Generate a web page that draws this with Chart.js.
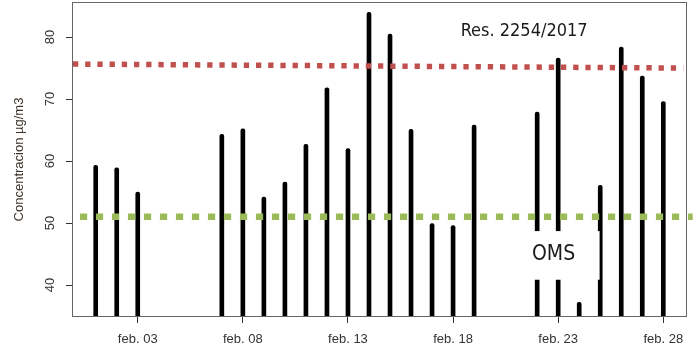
<!DOCTYPE html>
<html>
<head>
<meta charset="utf-8">
<script src="https://cdn.jsdelivr.net/npm/chart.js@4/dist/chart.umd.min.js"></script>
<style>
  html, body { margin: 0; padding: 0; background: #fff; }
  canvas { display: block; }
</style>
</head>
<body>
<canvas id="chart" width="698" height="347"></canvas>
<script>
// Daily PM10 concentration, February (day of month -> µg/m3)
const days = [1, 2, 3, 7, 8, 9, 10, 11, 12, 13, 14, 15, 16, 17, 18, 19, 22, 23, 24, 25, 26, 27, 28];
const pm10 = [59.3, 58.9, 55.0, 64.3, 65.2, 54.2, 56.6, 62.7, 71.8, 62.0, 84.0, 80.5, 65.1, 49.9, 49.6, 65.8, 67.9, 76.6, 37.2, 56.1, 78.4, 73.7, 69.6];

// Axis ticks
const tickDays = [3, 8, 13, 18, 23, 28];
const tickLabels = ['feb. 03', 'feb. 08', 'feb. 13', 'feb. 18', 'feb. 23', 'feb. 28'];
const yTicks = [40, 50, 60, 70, 80];

// Reference limits drawn as dotted lines
const resLimitX = [-0.08, 28.95];
const resLimitY = [75.65, 75.0];
const omsLimitX = [0.25, 29.4];
const omsLimitY = [51, 51];

// Limit captions (day, value)
const resCaption = { text: 'Res. 2254/2017', x: 21.38, y: 81.0 };
const omsCaption = { text: 'OMS', x: 22.78, y: 44.9 };
const omsBox = { x0: 21.3, x1: 24.97, y0: 40.85, y1: 48.7 };

const overlay = {
  id: 'overlay',
  afterDatasetsDraw(chart) {
    const { ctx, scales: { x, y } } = chart;
    ctx.save();
    // caption background for the OMS label
    const bx0 = x.getPixelForValue(omsBox.x0), bx1 = x.getPixelForValue(omsBox.x1);
    const by0 = y.getPixelForValue(omsBox.y1), by1 = y.getPixelForValue(omsBox.y0);
    ctx.fillStyle = '#ffffff';
    ctx.fillRect(bx0, by0, bx1 - bx0, by1 - by0);

    ctx.fillStyle = '#1a1a1a';
    ctx.textAlign = 'center';
    ctx.textBaseline = 'middle';
    ctx.font = '18px "DejaVu Sans Condensed", "DejaVu Sans", sans-serif';
    ctx.fillText(resCaption.text, x.getPixelForValue(resCaption.x), y.getPixelForValue(resCaption.y));
    ctx.font = '21px "DejaVu Sans Condensed", "DejaVu Sans", sans-serif';
    ctx.fillText(omsCaption.text, x.getPixelForValue(omsCaption.x), y.getPixelForValue(omsCaption.y));
    ctx.restore();
  },
  afterDraw(chart) {
    const { ctx, chartArea: a, scales: { y } } = chart;
    ctx.save();
    // plot frame
    ctx.strokeStyle = '#666';
    ctx.lineWidth = 1;
    ctx.strokeRect(Math.round(a.left) - 0.5, Math.round(a.top) - 0.5,
                   Math.round(a.right - a.left) + 1, Math.round(a.bottom - a.top) + 1);
    // vertical y tick labels
    ctx.fillStyle = '#333';
    ctx.font = '13px "Liberation Sans", Arial, sans-serif';
    ctx.textAlign = 'center';
    ctx.textBaseline = 'middle';
    yTicks.forEach(v => {
      ctx.save();
      ctx.translate(50, y.getPixelForValue(v));
      ctx.rotate(-Math.PI / 2);
      ctx.fillText(String(v), 0, 0);
      ctx.restore();
    });
    ctx.restore();
  }
};

new Chart(document.getElementById('chart'), {
  type: 'bar',
  data: {
    datasets: [
      {
        type: 'line',
        data: resLimitX.map((d, i) => ({ x: d, y: resLimitY[i] })),
        borderColor: '#C0504D',
        borderWidth: 5.5,
        borderDash: [5.3, 6.9],
        pointRadius: 0,
        fill: false,
        order: 0
      },
      {
        type: 'line',
        data: omsLimitX.map((d, i) => ({ x: d, y: omsLimitY[i] })),
        borderColor: '#9BBB59',
        borderWidth: 6.5,
        borderDash: [7.2, 8.8],
        pointRadius: 0,
        fill: false,
        clip: false,
        order: 0
      },
      {
        type: 'bar',
        data: days.map((d, i) => ({ x: d, y: pm10[i] })),
        backgroundColor: '#000',
        barThickness: 4,
        borderRadius: 2,
        order: 1
      }
    ]
  },
  options: {
    responsive: false,
    animation: false,
    devicePixelRatio: 1,
    layout: { padding: { left: 0, right: 12, top: 3, bottom: 0 } },
    plugins: { legend: { display: false }, tooltip: { enabled: false } },
    scales: {
      x: {
        type: 'linear',
        min: -0.08,
        max: 29.08,
        offset: false,
        afterBuildTicks(s) { s.ticks = tickDays.map(v => ({ value: v })); },
        afterFit(s) { s.height = 31; },
        grid: { offset: false, drawOnChartArea: false, drawTicks: true, tickLength: 7, tickColor: '#333', color: '#333' },
        border: { display: false },
        ticks: {
          autoSkip: false,
          maxRotation: 0,
          padding: 9,
          color: '#333',
          font: { family: 'Liberation Sans', size: 13 },
          callback: (v) => { const i = tickDays.indexOf(v); return i >= 0 ? tickLabels[i] : ''; }
        }
      },
      y: {
        min: 35,
        max: 85.5,
        afterBuildTicks(s) { s.ticks = yTicks.map(v => ({ value: v })); },
        afterFit(s) { s.width = 73; },
        grid: { drawOnChartArea: false, drawTicks: true, tickLength: 7, tickColor: '#333', color: '#333' },
        border: { display: false },
        ticks: { display: false },
        title: {
          display: true,
          text: 'Concentracion µg/m3',
          color: '#3d3228',
          font: { family: 'Liberation Sans', size: 13 },
          padding: { top: 12, bottom: 0 }
        }
      }
    }
  },
  plugins: [overlay]
});
</script>
</body>
</html>
